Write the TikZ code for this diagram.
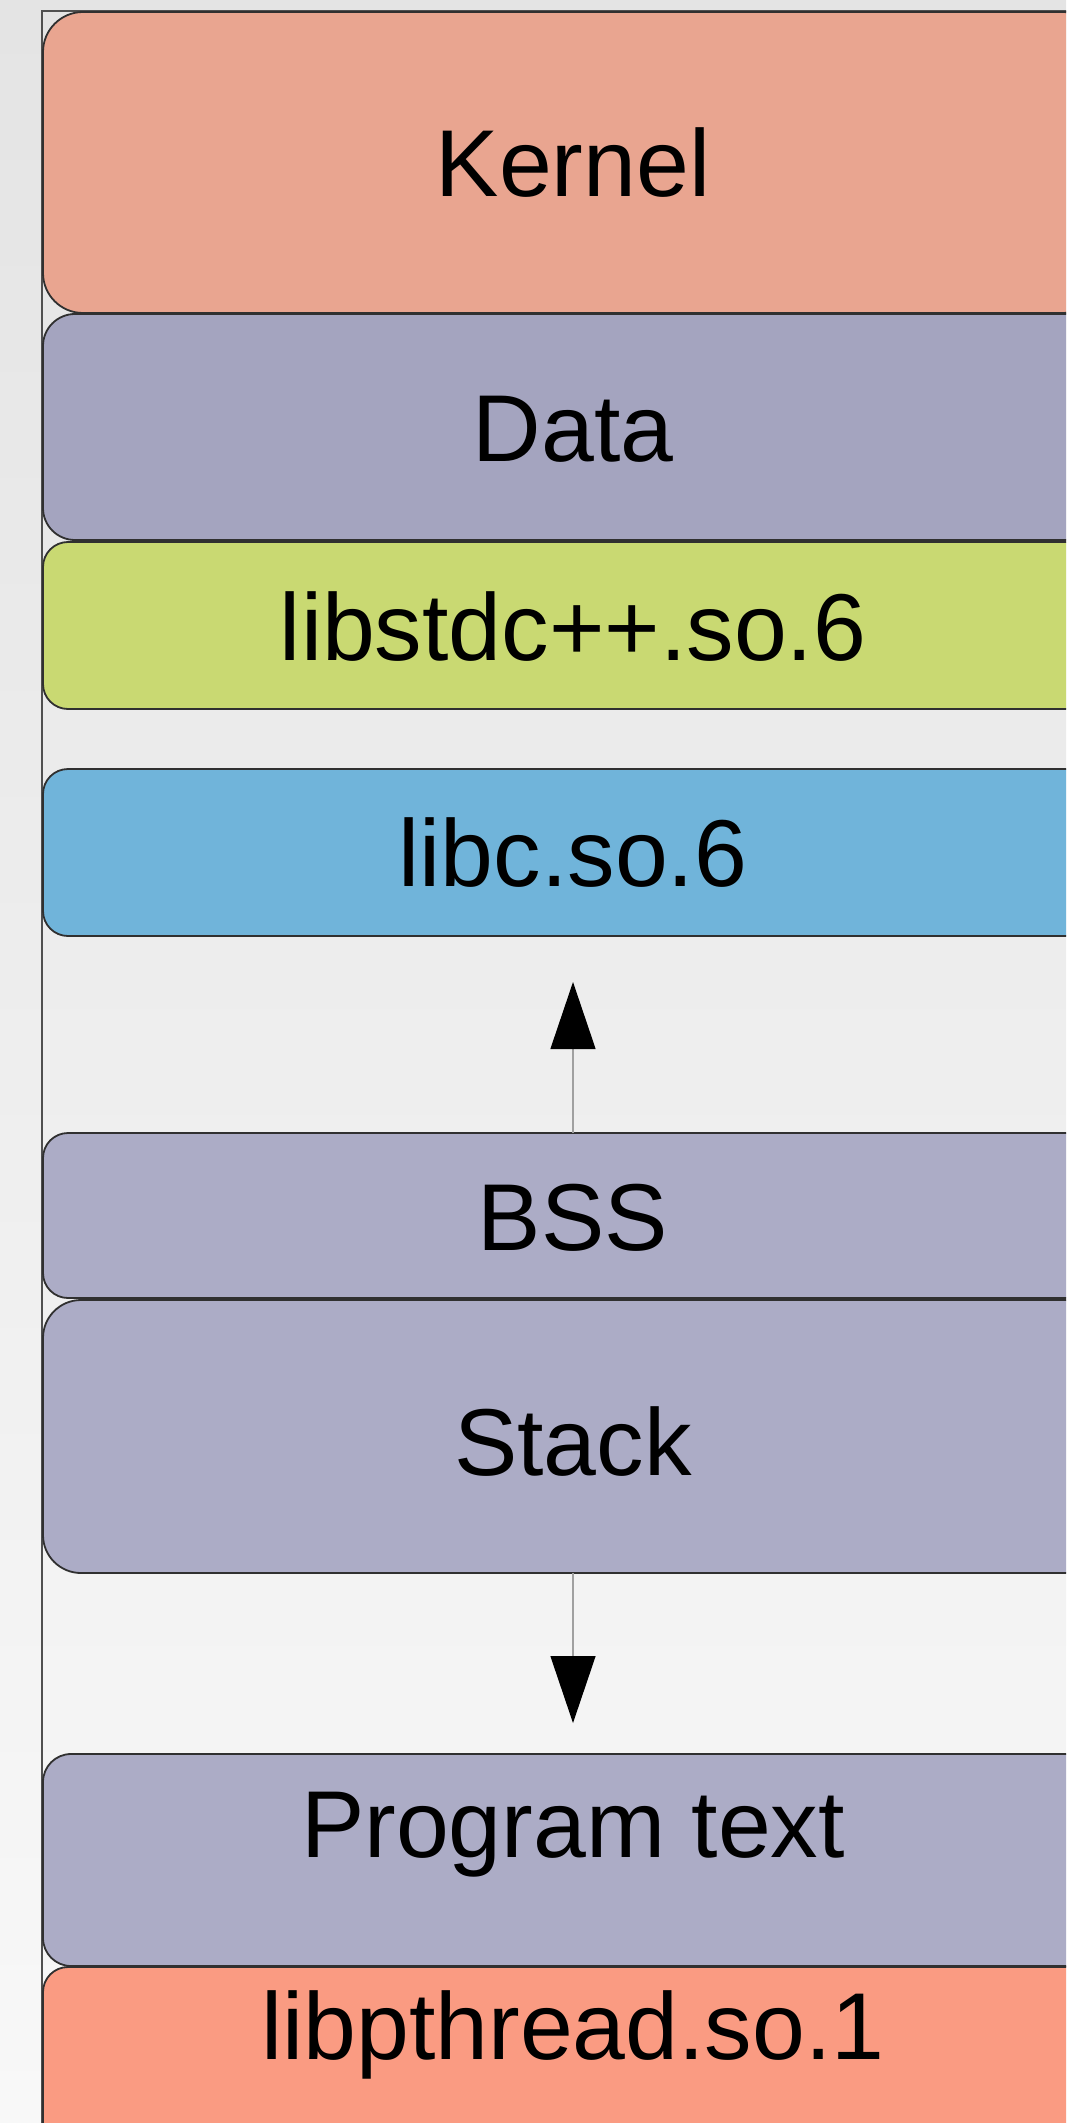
\documentclass[tikz,border=0pt]{standalone}
\usepackage{fontspec}
\setmainfont{Liberation Sans}
\usetikzlibrary{arrows.meta}
\definecolor{kernelc}{HTML}{E9A590}
\definecolor{datac}{HTML}{A4A4BF}
\definecolor{stdcc}{HTML}{C9D972}
\definecolor{libcc}{HTML}{70B4DA}
\definecolor{segc}{HTML}{ACACC6}
\definecolor{pthrc}{HTML}{FA9B82}
\definecolor{edgec}{HTML}{303030}
\definecolor{linec}{HTML}{A0A0A0}
\definecolor{bgtop}{HTML}{E4E4E4}
\definecolor{bgbot}{HTML}{F8F8F8}
\definecolor{framec}{HTML}{505050}
\begin{document}
\begin{tikzpicture}[x=0.5pt,y=-0.5pt,
  seg/.style={draw=edgec, line width=0.9pt, rectangle, minimum width=530pt, inner sep=0pt, outer sep=0pt},
  lbl/.style={anchor=base, font=\fontsize{47.5pt}{57pt}\selectfont, inner sep=0pt},
  conn/.style={draw=linec, line width=0.6pt, -{Triangle[length=33.5pt,width=22.5pt,black]}}]
\useasboundingbox (0,0) rectangle (1066,2123);
\clip (0,0) rectangle (1066,2123);
\shade[top color=bgtop,bottom color=bgbot] (0,0) rectangle (1066,2123);
\draw[draw=framec, line width=0.7pt] (42,2140) -- (42,11) -- (1080,11);
% segments
\node[seg, fill=kernelc, rounded corners=20pt, minimum height=150.5pt] (kernel) at (573,162.5) {};
\node[seg, fill=datac, rounded corners=16pt, minimum height=113pt] (data) at (573,427) {};
\node[seg, fill=stdcc, rounded corners=12.5pt, minimum height=83.5pt] (stdc) at (573,625.5) {};
\node[seg, fill=libcc, rounded corners=12.5pt, minimum height=83.5pt] (libc) at (573,852.5) {};
\node[seg, fill=segc, rounded corners=12.5pt, minimum height=82.5pt] (bss) at (573,1215.5) {};
\node[seg, fill=segc, rounded corners=19pt, minimum height=136.5pt] (stack) at (573,1436.5) {};
\node[seg, fill=segc, rounded corners=14pt, minimum height=106pt] (prog) at (573,1860) {};
\node[seg, fill=pthrc, rounded corners=12.5pt, minimum height=116.5pt] (pthr) at (573,2083.5) {};
% labels
\node[lbl] (tkernel) at (573,197) {Kernel};
\node[lbl] (tdata) at (573,462) {Data};
\node[lbl] (tstdc) at (573,660) {libstdc++.so.6};
\node[lbl] (tlibc) at (573,886) {libc.so.6};
\node[lbl] (tbss) at (573,1250) {BSS};
\node[lbl] (tstack) at (573,1475) {Stack};
\node[lbl] (tprog) at (573,1857) {Program text};
\node[lbl] (tpthr) at (573,2059) {libpthread.so.1};
% arrows
\coordinate (upTip) at (573,982);
\coordinate (downTip) at (573,1723);
\draw[conn] (bss.north) -- (upTip);
\draw[conn] (stack.south) -- (downTip);
\end{tikzpicture}
\end{document}
